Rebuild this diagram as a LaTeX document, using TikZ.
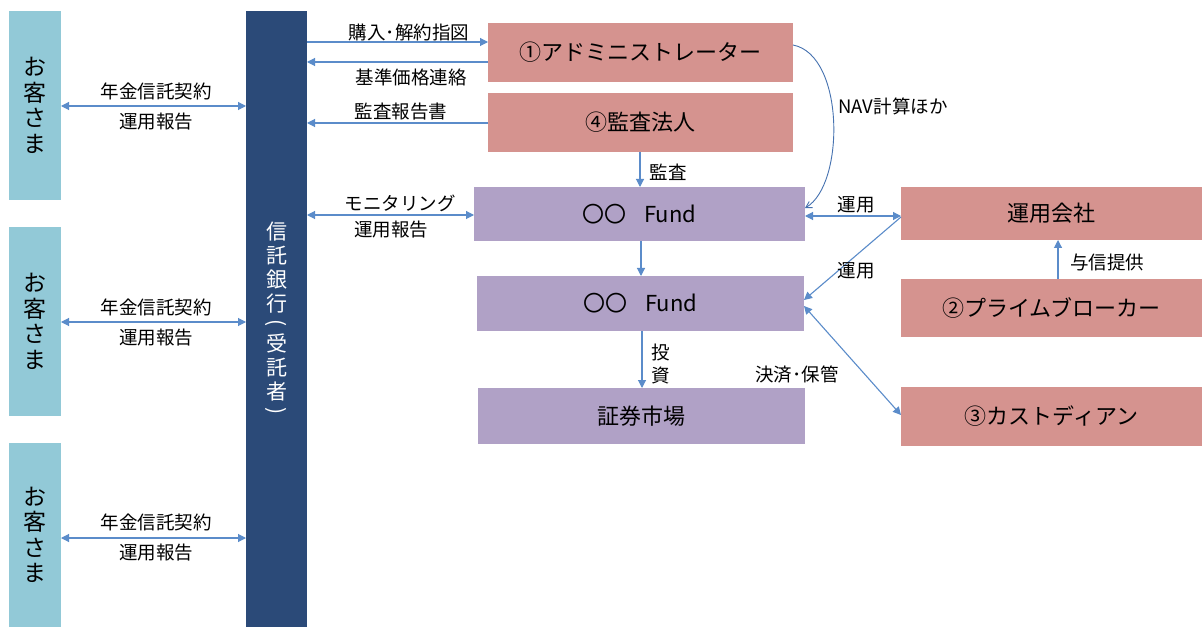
\documentclass[tikz,border=0pt]{standalone}
\usepackage{fontspec}
\setmainfont{Noto Sans CJK JP}
\usetikzlibrary{arrows.meta}
\definecolor{custC}{HTML}{92C9D7}
\definecolor{bankC}{HTML}{2B4A78}
\definecolor{pinkC}{HTML}{D5938F}
\definecolor{purpC}{HTML}{B0A1C6}
\definecolor{arrC}{HTML}{5B8CCA}
\definecolor{curveC}{HTML}{4672B0}
\tikzset{
  boxbase/.style={inner sep=0pt, outer sep=0pt, draw=none, text=black},
  custbox/.style={boxbase, fill=custC, minimum width=52pt, align=center, font=\fontsize{23}{25.5}\selectfont},
  bankbox/.style={boxbase, fill=bankC, minimum width=61pt, minimum height=616pt},
  pinkbox/.style={boxbase, fill=pinkC, font=\fontsize{22}{24}\selectfont},
  purpbox/.style={boxbase, fill=purpC, font=\fontsize{22}{24}\selectfont},
  lbl/.style={inner sep=0pt, font=\fontsize{18.5}{20}\selectfont, text=black},
  arr/.style={draw=arrC, line width=1.1pt, -{Triangle[length=8pt,width=8pt]}},
  darr/.style={draw=arrC, line width=1.1pt, {Triangle[length=8pt,width=8pt]}-{Triangle[length=8pt,width=8pt]}},
}
\begin{document}
\begin{tikzpicture}[x=1pt,y=-1pt]
\useasboundingbox (0,0) rectangle (1202,628);
\fill[white] (0,0) rectangle (1202,628);
% customers
\node[custbox, minimum height=189pt] (c1) at (35,105.5) {お\\客\\さ\\ま};
\node[custbox, minimum height=189pt] (c2) at (35,321.5) {お\\客\\さ\\ま};
\node[custbox, minimum height=184pt] (c3) at (35,535) {お\\客\\さ\\ま};
% bank
\node[bankbox] (bank) at (276.5,319) {};
\node[text=white, align=center, inner sep=0pt, font=\fontsize{21}{24}\selectfont] (banktxt) at (276.5,320)
 {信\\託\\銀\\行\\[-6pt]\rotatebox[origin=c]{-90}{(}\\[-2pt]受\\託\\者\\[-6pt]\rotatebox[origin=c]{-90}{)}};
% right side boxes
\node[pinkbox, minimum width=305pt, minimum height=59pt] (admin) at (640.5,52.5) {①アドミニストレーター};
\node[pinkbox, minimum width=305pt, minimum height=59pt] (audit) at (640.5,122.5) {④監査法人};
\node[purpbox, minimum width=331pt, minimum height=54pt] (fund1) at (639.5,214) {〇〇\hspace{0.8em}Fund};
\node[purpbox, minimum width=327pt, minimum height=55pt] (fund2) at (640.5,303.5) {〇〇\hspace{0.8em}Fund};
\node[purpbox, minimum width=327pt, minimum height=56pt] (market) at (641.5,416) {証券市場};
\node[pinkbox, minimum width=301pt, minimum height=53pt] (mgr) at (1051.5,213.5) {運用会社};
\node[pinkbox, minimum width=301pt, minimum height=58pt] (pb) at (1051.5,308) {②プライムブローカー};
\node[pinkbox, minimum width=301pt, minimum height=59pt] (cust) at (1051.5,416.5) {③カストディアン};
% customer <-> bank
\draw[darr] (c1.east |- 0,106) -- (bank.west |- 0,106);
\draw[darr] (c2.east |- 0,322) -- (bank.west |- 0,322);
\draw[darr] (c3.east |- 0,538) -- (bank.west |- 0,538);
\node[lbl] (l1a) at (156,91) {年金信託契約};
\node[lbl] (l1b) at (156,122) {運用報告};
\node[lbl] (l2a) at (156,307) {年金信託契約};
\node[lbl] (l2b) at (156,338) {運用報告};
\node[lbl] (l3a) at (156,522) {年金信託契約};
\node[lbl] (l3b) at (156,553) {運用報告};
% bank <-> admin / audit / fund
\draw[arr] (bank.east |- 0,42) -- (admin.west |- 0,42);
\draw[arr] (admin.west |- 0,62) -- (bank.east |- 0,62);
\draw[arr] (audit.west |- 0,123) -- (bank.east |- 0,123);
\draw[darr] (bank.east |- 0,215) -- (fund1.west |- 0,215);
\node[lbl] (lb1) at (409,32) {購入･解約指図};
\node[lbl] (lb2) at (411,77) {基準価格連絡};
\node[lbl] (lb3) at (401,112) {監査報告書};
\node[lbl] (lb4) at (400,203) {モニタリング};
\node[lbl] (lb5) at (391,230) {運用報告};
% vertical flows
\draw[arr] (audit.south -| 640,0) -- (fund1.north -| 640,0);
\node[lbl] (lb6) at (668,172) {監査};
\draw[arr] (fund1.south -| 641,0) -- (fund2.north -| 641,0);
\draw[arr] (fund2.south -| 642,0) -- (market.north -| 642,0);
\node[lbl, align=center, font=\fontsize{18.5}{23}\selectfont] (lb7) at (661,364) {投\\資};
% NAV curve
\draw[draw=curveC, line width=0.9pt, -{Straight Barb[length=6pt,width=7pt]}] (admin.east |- 0,45) .. controls (845,55) and (845,185) .. (fund1.east |- 0,208);
\node[lbl] (lb8) at (893,106) {NAV計算ほか};
% manager links
\draw[darr] (fund1.east |- 0,216) -- (mgr.west |- 0,216);
\node[lbl] (lb9) at (856,205) {運用};
\draw[arr] (mgr.west |- 0,217) -- (fund2.east |- 0,300);
\node[lbl] (lb10) at (856,271) {運用};
\draw[arr] (pb.north -| 1058,0) -- (mgr.south -| 1058,0);
\node[lbl] (lb11) at (1107,262) {与信提供};
\draw[darr] (fund2.east |- 0,306) -- (cust.west |- 0,415);
\node[lbl] (lb12) at (797,375) {決済･保管};
\end{tikzpicture}
\end{document}
